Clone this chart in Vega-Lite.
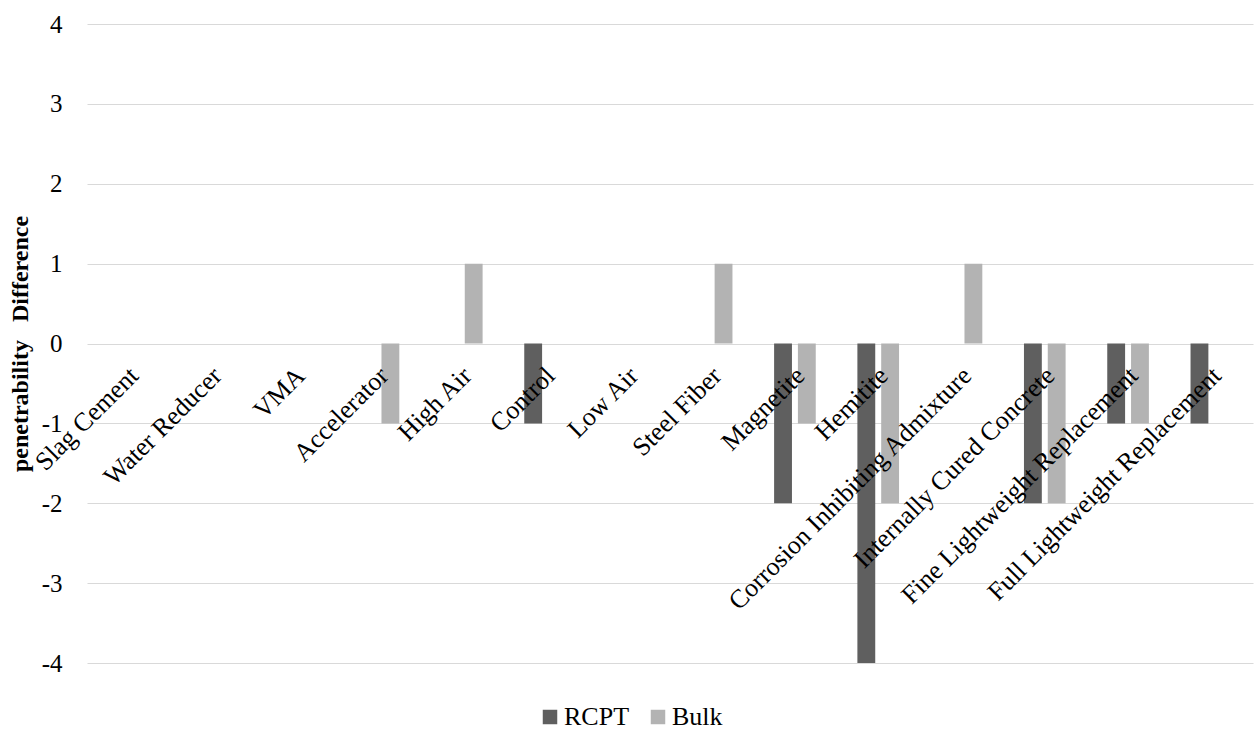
{
  "$schema": "https://vega.github.io/schema/vega-lite/v6.json",
  "autosize": "none",
  "width": 1166,
  "height": 639,
  "padding": {"left": 87, "top": 24, "right": 6, "bottom": 77},
  "background": "white",
  "config": {
    "view": {"stroke": null},
    "font": "Liberation Serif",
    "axis": {"labelFont": "Liberation Serif", "titleFont": "Liberation Serif"},
    "legend": {"labelFont": "Liberation Serif", "titleFont": "Liberation Serif"},
    "text": {"font": "Liberation Serif"}
  },
  "data": {
    "values": [
      {"category": "Slag Cement", "series": "RCPT", "value": 0},
      {"category": "Slag Cement", "series": "Bulk", "value": 0},
      {"category": "Water Reducer", "series": "RCPT", "value": 0},
      {"category": "Water Reducer", "series": "Bulk", "value": 0},
      {"category": "VMA", "series": "RCPT", "value": 0},
      {"category": "VMA", "series": "Bulk", "value": 0},
      {"category": "Accelerator", "series": "RCPT", "value": 0},
      {"category": "Accelerator", "series": "Bulk", "value": -1},
      {"category": "High Air", "series": "RCPT", "value": 0},
      {"category": "High Air", "series": "Bulk", "value": 1},
      {"category": "Control", "series": "RCPT", "value": -1},
      {"category": "Control", "series": "Bulk", "value": 0},
      {"category": "Low Air", "series": "RCPT", "value": 0},
      {"category": "Low Air", "series": "Bulk", "value": 0},
      {"category": "Steel Fiber", "series": "RCPT", "value": 0},
      {"category": "Steel Fiber", "series": "Bulk", "value": 1},
      {"category": "Magnetite", "series": "RCPT", "value": -2},
      {"category": "Magnetite", "series": "Bulk", "value": -1},
      {"category": "Hemitite", "series": "RCPT", "value": -4},
      {"category": "Hemitite", "series": "Bulk", "value": -2},
      {"category": "Corrosion Inhibiting Admixture", "series": "RCPT", "value": 0},
      {"category": "Corrosion Inhibiting Admixture", "series": "Bulk", "value": 1},
      {"category": "Internally Cured Concrete", "series": "RCPT", "value": -2},
      {"category": "Internally Cured Concrete", "series": "Bulk", "value": -2},
      {"category": "Fine Lightweight Replacement", "series": "RCPT", "value": -1},
      {"category": "Fine Lightweight Replacement", "series": "Bulk", "value": -1},
      {"category": "Full Lightweight Replacement", "series": "RCPT", "value": -1},
      {"category": "Full Lightweight Replacement", "series": "Bulk", "value": 0}
    ]
  },
  "encoding": {
    "x": {
      "field": "category",
      "type": "nominal",
      "sort": null,
      "scale": {"paddingInner": 0.5, "paddingOuter": 0.25},
      "axis": null
    }
  },
  "layer": [
    {
      "mark": {"type": "bar"},
      "encoding": {
        "xOffset": {
          "field": "series",
          "type": "nominal",
          "sort": ["RCPT", "Bulk"],
          "scale": {"paddingInner": 0.25, "paddingOuter": 0}
        },
        "y": {
          "field": "value",
          "type": "quantitative",
          "scale": {"domain": [-4, 4], "nice": false},
          "axis": {
            "values": [-4, -3, -2, -1, 0, 1, 2, 3, 4],
            "labelExpr": "'' + datum.value",
            "title": "penetrability\u00a0\u00a0 Difference",
            "titleFont": "Liberation Serif",
            "titleFontWeight": "bold",
            "titleFontSize": 24,
            "titleColor": "#000000",
            "titlePadding": 9,
            "labelFont": "Liberation Serif",
            "labelFontSize": 25,
            "labelColor": "#000000",
            "labelPadding": 25,
            "ticks": false,
            "domain": false,
            "grid": true,
            "gridColor": "#d9d9d9",
            "gridWidth": 1
          }
        },
        "color": {
          "field": "series",
          "type": "nominal",
          "sort": ["RCPT", "Bulk"],
          "scale": {"domain": ["RCPT", "Bulk"], "range": ["#5f5f5f", "#b3b3b3"]},
          "legend": {
            "title": null,
            "orient": "none",
            "direction": "horizontal",
            "legendX": 450,
            "legendY": 680,
            "symbolType": "square",
            "symbolSize": 210,
            "symbolStrokeWidth": 0,
            "labelFont": "Liberation Serif",
            "labelFontSize": 26,
            "labelColor": "#000000",
            "labelOffset": 1,
            "columnPadding": 15
          }
        }
      }
    },
    {
      "transform": [{"filter": "datum.series == 'RCPT'"}],
      "mark": {
        "type": "text",
        "angle": -45,
        "align": "right",
        "baseline": "top",
        "fontSize": 26,
        "font": "Liberation Serif",
        "color": "#000000",
        "dx": -16,
        "dy": 11
      },
      "encoding": {
        "y": {"datum": 0},
        "text": {"field": "category"}
      }
    }
  ]
}
